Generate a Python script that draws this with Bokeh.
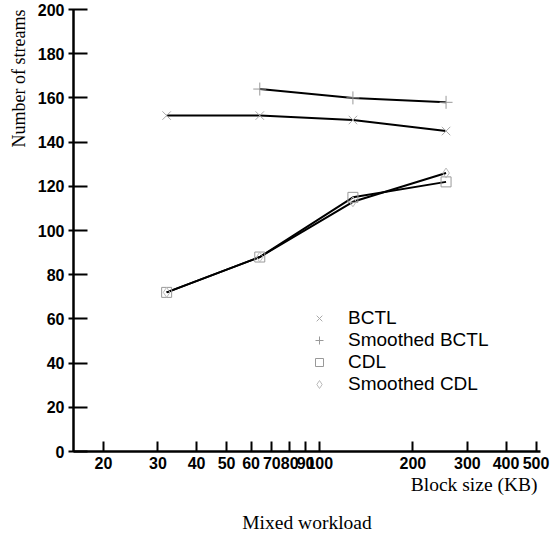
from bokeh.plotting import figure
from bokeh.models import FixedTicker, Legend, LegendItem, Title, Range1d, LogAxis
from bokeh.embed import file_html
from bokeh.resources import INLINE

# Block sizes (KB) and number of streams sustained for each policy
block_sizes = [32, 64, 128, 256]
bctl = [152, 152, 150, 145]
smoothed_bctl_sizes = [64, 128, 256]
smoothed_bctl = [164, 160, 158]
cdl = [72, 88, 115, 122]
smoothed_cdl = [72, 88, 113, 126]

x_ticks = [20, 30, 40, 50, 60, 70, 80, 90, 100, 200, 300, 400, 500]
y_ticks = [0, 20, 40, 60, 80, 100, 120, 140, 160, 180, 200]

p = figure(width=550, height=536, x_axis_type="log",
           x_range=Range1d(16, 517), y_range=Range1d(0, 200),
           output_backend="svg", toolbar_location=None,
           min_border_left=72, min_border_right=10,
           min_border_top=9, min_border_bottom=85)
p.outline_line_color = None
p.grid.visible = False
p.background_fill_color = "white"

# axes
for ax in (p.xaxis[0], p.yaxis[0]):
    ax.axis_line_width = 2.5
    ax.axis_line_color = "black"
    ax.major_tick_line_width = 2
    ax.major_tick_line_color = "black"
    ax.minor_tick_line_color = None
    ax.major_label_text_font = "Liberation Sans"
    ax.major_label_text_font_style = "bold"
    ax.major_label_text_font_size = "16px"
    ax.major_label_text_color = "black"

xa = p.xaxis[0]
xa.ticker = FixedTicker(ticks=x_ticks)
xa.major_label_overrides = {t: str(t) for t in x_ticks}
xa.major_tick_in = 10
xa.major_tick_out = 0
xa.major_label_standoff = 5

p.yaxis.ticker = FixedTicker(ticks=y_ticks)
p.yaxis.major_tick_in = 14
p.yaxis.major_tick_out = 5
p.yaxis.major_label_standoff = 4

# x caption, flush with the right-hand end of the axis
p.add_layout(Title(text="Block size (KB)", align="right",
                   text_font="Liberation Serif", text_font_size="19.5px",
                   text_font_style="normal", text_color="black",
                   standoff=0, offset=3), "below")

# a bare axis underneath carries the workload caption
p.add_layout(LogAxis(ticker=FixedTicker(ticks=[]),
                     axis_line_color=None, major_tick_line_color=None,
                     minor_tick_line_color=None, major_tick_in=0,
                     major_tick_out=0, major_label_standoff=0,
                     major_label_text_font_size="0px",
                     axis_label="Mixed workload",
                     axis_label_text_font="Liberation Serif",
                     axis_label_text_font_style="normal",
                     axis_label_text_font_size="19.5px",
                     axis_label_text_color="black",
                     axis_label_standoff=17), "below")

# series lines
p.line(block_sizes, bctl, line_color="black", line_width=2)
p.line(smoothed_bctl_sizes, smoothed_bctl, line_color="black", line_width=2)
p.line(block_sizes, cdl, line_color="black", line_width=2)
p.line(block_sizes, smoothed_cdl, line_color="black", line_width=2)

# point markers
r_bctl = p.scatter(block_sizes, bctl, marker="x", size=12,
                   line_color="#aaaaaa", line_width=1)
r_sbctl = p.scatter(smoothed_bctl_sizes, smoothed_bctl, marker="cross", size=13,
                    line_color="#999999", line_width=1)
r_cdl = p.scatter(block_sizes, cdl, marker="square", size=10,
                  line_color="#999999", line_width=1, fill_color=None)
r_scdl = p.scatter(block_sizes, smoothed_cdl, marker="diamond", size=10,
                   line_color="#bbbbbb", line_width=1, fill_color=None)

legend = Legend(items=[
    LegendItem(label="BCTL", renderers=[r_bctl]),
    LegendItem(label="Smoothed BCTL", renderers=[r_sbctl]),
    LegendItem(label="CDL", renderers=[r_cdl]),
    LegendItem(label="Smoothed CDL", renderers=[r_scdl]),
], location=(236, 56))
legend.border_line_color = None
legend.background_fill_alpha = 0
legend.padding = 0
legend.margin = 0
legend.spacing = 0
legend.glyph_width = 20
legend.glyph_height = 22
legend.label_height = 22
legend.label_standoff = 19
legend.label_text_font = "Liberation Sans"
legend.label_text_font_size = "19px"
legend.label_text_color = "black"
p.add_layout(legend)

# y caption, set against the top of the axis
p.add_layout(Title(text="Number of streams", align="right",
                   text_font="Liberation Serif", text_font_size="18px",
                   text_font_style="normal", text_color="black",
                   standoff=12, offset=0), "left")

open("out.html", "w").write(file_html(p, INLINE))
